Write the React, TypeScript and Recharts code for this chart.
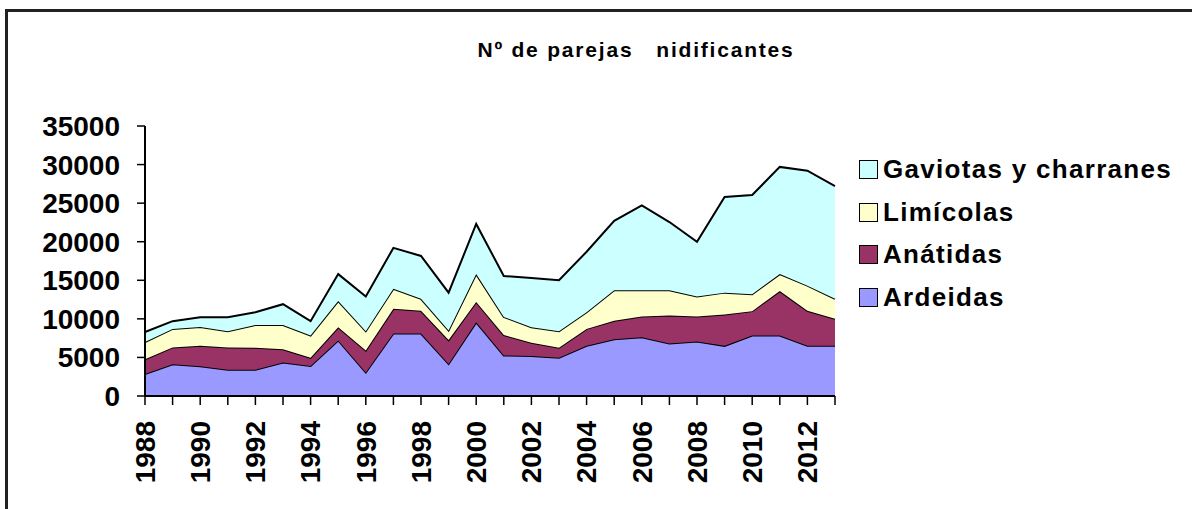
import React from "react";
import { AreaChart, Area, XAxis, YAxis } from "recharts";

const years = [
  1988, 1989, 1990, 1991, 1992, 1993, 1994, 1995, 1996, 1997, 1998, 1999, 2000,
  2001, 2002, 2003, 2004, 2005, 2006, 2007, 2008, 2009, 2010, 2011, 2012, 2013,
];
const ardeidas = [
  2850, 4100, 3850, 3400, 3400, 4350, 3900, 7200, 3050, 8100, 8100, 4150, 9550,
  5250, 5200, 4950, 6500, 7350, 7600, 6800, 7050, 6500, 7850, 7850, 6500, 6500,
];
const anatidas = [
  1900, 2200, 2650, 2900, 2850, 1700, 1050, 1700, 2850, 3200, 2950, 3100, 2650,
  2650, 1700, 1300, 2200, 2400, 2700, 3650, 3250, 4050, 3150, 5750, 4550, 3500,
];
const limicolas = [
  2250, 2400, 2450, 2100, 2950, 3150, 2900, 3400, 2500, 2600, 1550, 1250, 3600,
  2350, 2000, 2150, 2150, 3950, 3400, 3250, 2600, 2850, 2200, 2200, 3250, 2600,
];
const gaviotas = [
  1300, 1000, 1250, 1800, 1650, 2700, 1850, 3500, 4500, 5300, 5550, 4900, 6500,
  5300, 6400, 6600, 7850, 9000, 11000, 8850, 7100, 12400, 12850, 13900, 14900, 14600,
];
const yTicks = [0, 5000, 10000, 15000, 20000, 25000, 30000, 35000];

const series = [
  { key: "ardeidas", name: "Ardeidas", color: "#9999FF" },
  { key: "anatidas", name: "Anátidas", color: "#993366" },
  { key: "limicolas", name: "Limícolas", color: "#FFFFCC" },
  { key: "gaviotas", name: "Gaviotas y charranes", color: "#CCFFFF" },
];

const data = years.map((year, i) => ({
  year,
  ardeidas: ardeidas[i],
  anatidas: anatidas[i],
  limicolas: limicolas[i],
  gaviotas: gaviotas[i],
}));

const FONT = '"Liberation Sans", Arial, sans-serif';

const YearTick = (props: any) => {
  const { x, y, payload } = props;
  if (payload.value % 2 !== 0) return null;
  return (
    <text
      x={x}
      y={y}
      dy="0.35em"
      transform={`rotate(-90 ${x} ${y})`}
      textAnchor="end"
      fontFamily={FONT}
      fontWeight="bold"
      fontSize={28}
      fill="#000"
    >
      {payload.value}
    </text>
  );
};

const LegendBox = () => (
  <div
    style={{
      position: "absolute",
      left: 859,
      top: 148,
      fontFamily: FONT,
    }}
  >
    {[...series].reverse().map((s) => (
      <div
        key={s.key}
        style={{ display: "flex", alignItems: "center", height: 42.7 }}
      >
        <div
          style={{
            width: 17,
            height: 17,
            background: s.color,
            border: "1.5px solid #000",
            marginRight: 5,
          }}
        />
        <span
          style={{
            fontSize: 26,
            fontWeight: "bold",
            letterSpacing: 1.3,
            color: "#000",
            whiteSpace: "nowrap",
          }}
        >
          {s.name}
        </span>
      </div>
    ))}
  </div>
);

export default function App() {
  return (
    <div
      style={{
        position: "absolute",
        left: 0,
        top: 0,
        width: 1192,
        height: 509,
        overflow: "hidden",
        background: "#fff",
      }}
    >
      <div
        style={{
          position: "absolute",
          left: 636,
          top: 50,
          transform: "translate(-50%, -50%)",
          fontFamily: FONT,
          fontWeight: "bold",
          fontSize: 21,
          letterSpacing: 1.8,
          whiteSpace: "pre",
          color: "#000",
        }}
      >
        Nº de parejas   nidificantes
      </div>
      <div style={{ position: "absolute", left: 0, top: 0 }}>
        <AreaChart
          width={1192}
          height={509}
          data={data}
          margin={{ top: 126, right: 357, bottom: 0, left: 0 }}
        >
          <XAxis
            dataKey="year"
            interval={0}
            height={113}
            tick={<YearTick />}
            tickSize={9}
            tickMargin={16}
            axisLine={{ stroke: "#000", strokeWidth: 2 }}
            tickLine={{ stroke: "#000", strokeWidth: 1.5 }}
          />
          <YAxis
            width={145}
            domain={[0, 35000]}
            ticks={yTicks}
            interval={0}
            tickSize={8}
            tickMargin={17}
            axisLine={{ stroke: "#000", strokeWidth: 2 }}
            tickLine={{ stroke: "#000", strokeWidth: 1.5 }}
            tick={{
              fontFamily: FONT,
              fontWeight: "bold",
              fontSize: 28,
              fill: "#000",
            }}
          />
          {series.map((s) => (
            <Area
              key={s.key}
              type="linear"
              dataKey={s.key}
              name={s.name}
              stackId="1"
              stroke="#000"
              strokeWidth={2}
              fill={s.color}
              fillOpacity={1}
              isAnimationActive={false}
            />
          ))}
        </AreaChart>
      </div>
      <LegendBox />
      <div
        style={{
          position: "absolute",
          left: 5,
          top: 9,
          width: 1300,
          height: 600,
          borderTop: "3px solid #222",
          borderLeft: "3px solid #222",
          pointerEvents: "none",
          zIndex: 10,
        }}
      />
    </div>
  );
}
